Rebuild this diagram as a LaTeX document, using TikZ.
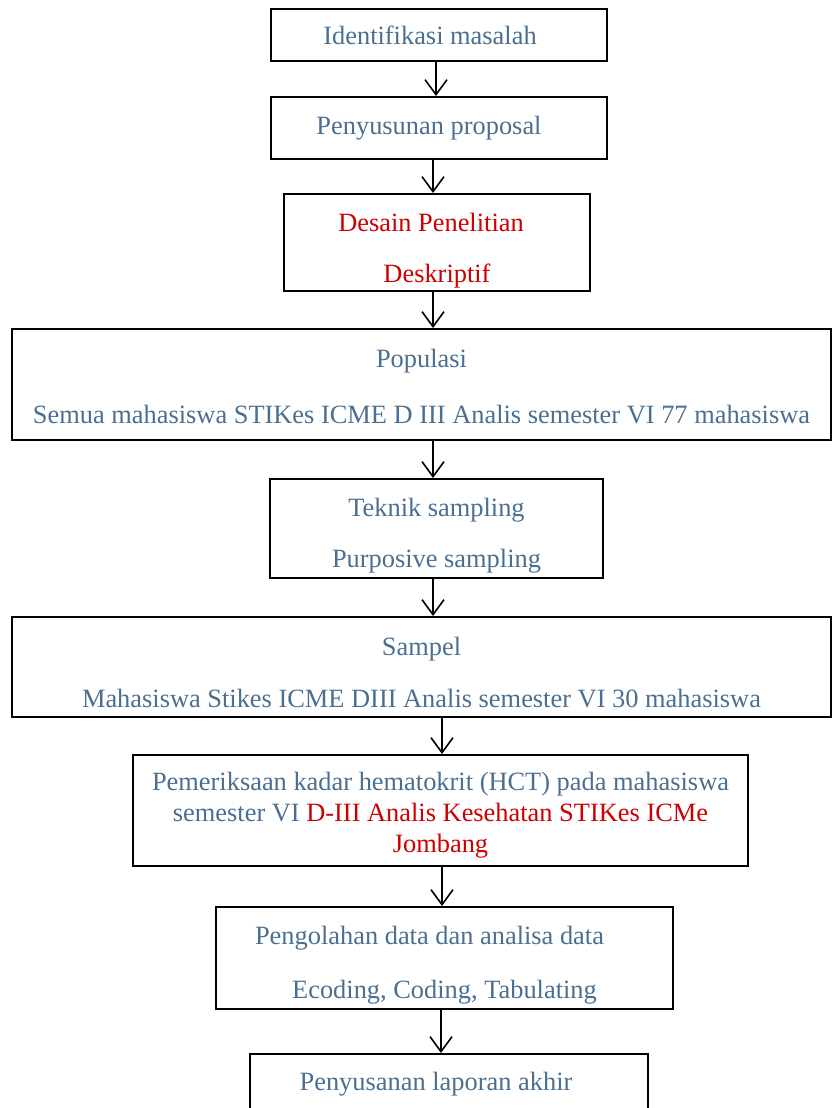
\documentclass[tikz,border=0pt]{standalone}
\usepackage{fontspec}
\setmainfont{Liberation Serif}
\usetikzlibrary{arrows.meta}
\definecolor{txtblue}{HTML}{4A6F91}
\definecolor{txtred}{HTML}{CC0000}
% push the first line down / a line to the left inside its box
\newcommand{\toplift}[1]{\rule{0pt}{#1}}
\newcommand{\padright}[1]{\hspace*{#1}}

\begin{document}
\begin{tikzpicture}[x=0.5pt, y=-0.5pt,
    box/.style={draw=black, line width=1pt, align=center, text=txtblue,
                inner sep=0pt, font=\fontsize{13.2}{15.5}\selectfont},
    flow/.style={-{Straight Barb[length=7.5pt,width=11pt]}, line width=0.8pt}]
	\useasboundingbox (0,0) rectangle (833,1108);

	% the boxes, top to bottom
	\node[box, minimum width=168pt, minimum height=26pt] (ident) at (439,35)
		{Identifikasi masalah\padright{9pt}};
	\node[box, minimum width=168pt, minimum height=31pt] (proposal) at (439,128)
		{Penyusunan proposal\padright{10pt}};
	\node[box, minimum width=153pt, minimum height=48.5pt, text=txtred] (desain) at (437,242.5)
		{\toplift{17.3pt}Desain Penelitian\padright{6pt}\\[10pt]Deskriptif};
	\node[box, minimum width=409.5pt, minimum height=55.5pt] (populasi) at (421.5,384.5)
		{\toplift{11.3pt}Populasi\\[12.5pt]Semua mahasiswa STIKes ICME D III Analis semester VI 77 mahasiswa};
	\node[box, minimum width=166.5pt, minimum height=49.5pt] (teknik) at (436.5,528.5)
		{\toplift{16.3pt}Teknik sampling\\[10pt]Purposive sampling};
	\node[box, minimum width=409.5pt, minimum height=50pt] (sampel) at (421.5,667)
		{\toplift{14.3pt}Sampel\\[10.5pt]Mahasiswa Stikes ICME DIII Analis semester VI 30 mahasiswa};
	\node[box, minimum width=307.5pt, minimum height=55.5pt] (periksa) at (440.5,810.5)
		{\toplift{13.6pt}Pemeriksaan kadar hematokrit (HCT) pada mahasiswa\\
		 semester VI \textcolor{txtred}{D-III Analis Kesehatan STIKes ICMe}\\
		 \textcolor{txtred}{Jombang}};
	\node[box, minimum width=228.5pt, minimum height=51pt] (olah) at (444.5,958)
		{\toplift{16.3pt}Pengolahan data dan analisa data\padright{15pt}\\[11.5pt]Ecoding, Coding, Tabulating};
	\node[box, minimum width=199pt, text height=13pt, text depth=40pt, inner ysep=5pt,
	      anchor=north] (laporan) at (449,1053) {Penyusanan laporan akhir\padright{13pt}};

	% x positions of the arrows
	\coordinate (c1) at (436,0);
	\coordinate (c2) at (433,0);
	\coordinate (c3) at (442,0);
	\coordinate (c4) at (441,0);

	\draw[flow] (ident.south -| c1) -- (proposal.north -| c1);
	\draw[flow] (proposal.south -| c2) -- (desain.north -| c2);
	\draw[flow] (desain.south -| c2) -- (populasi.north -| c2);
	\draw[flow] (populasi.south -| c2) -- (teknik.north -| c2);
	\draw[flow] (teknik.south -| c2) -- (sampel.north -| c2);
	\draw[flow] (sampel.south -| c3) -- (periksa.north -| c3);
	\draw[flow] (periksa.south -| c3) -- (olah.north -| c3);
	\draw[flow] (olah.south -| c4) -- (laporan.north -| c4);
\end{tikzpicture}
\end{document}
